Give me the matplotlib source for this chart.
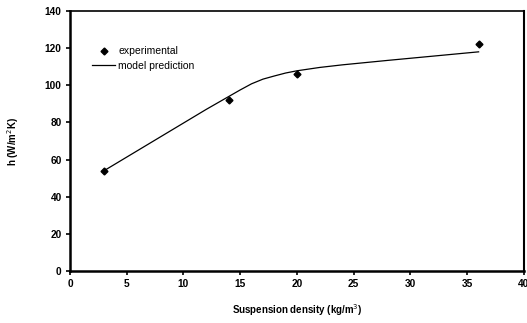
import matplotlib
matplotlib.use("Agg")
import matplotlib.pyplot as plt

plt.rcParams['font.family'] = ['Liberation Sans', 'DejaVu Sans']

# experimental points
exp_x = [3, 14, 20, 36]
exp_y = [54, 92, 106, 122]

# model prediction curve
model_x = [3, 6, 9, 12, 14, 15, 16, 17, 18, 19, 20, 22, 24, 28, 32, 36]
model_y = [54, 65, 76, 87, 94, 97.5, 100.8, 103.3, 105, 106.6, 107.8, 109.6, 111, 113.4, 115.7, 118]

xticks = [0, 5, 10, 15, 20, 25, 30, 35, 40]
yticks = [0, 20, 40, 60, 80, 100, 120, 140]

fig = plt.figure(figsize=(5.27, 3.23), dpi=100)
ax = fig.add_axes([0.1328, 0.161, 0.8615, 0.805])

ax.plot(exp_x, exp_y, linestyle='none', marker='D', markersize=3.5,
        color='black', label='experimental')
ax.plot(model_x, model_y, color='black', linewidth=0.9, label='model prediction')

ax.set_xlim(0, 40)
ax.set_ylim(0, 140)
ax.set_xticks(xticks)
ax.set_yticks(yticks)
ax.tick_params(direction='out', length=3, width=1.2, labelsize=7.3, pad=3)
for lab in ax.get_xticklabels() + ax.get_yticklabels():
    lab.set_fontweight('bold')

ax.spines['left'].set_linewidth(1.8)
ax.spines['bottom'].set_linewidth(1.8)
ax.spines['top'].set_linewidth(1.2)
ax.spines['right'].set_linewidth(1.5)

ax.set_xlabel('Suspension density (kg/m$^3$)', fontsize=7, fontweight='bold', labelpad=9)
ax.set_ylabel('h (W/m$^2$K)', fontsize=7, fontweight='bold', labelpad=17)

ax.legend(loc='upper left', bbox_to_anchor=(0.04, 0.88), frameon=False,
          fontsize=7.5, handlelength=2.2, handletextpad=0.3, labelspacing=0.4,
          borderaxespad=0)

fig.savefig('out.png', dpi=100)
